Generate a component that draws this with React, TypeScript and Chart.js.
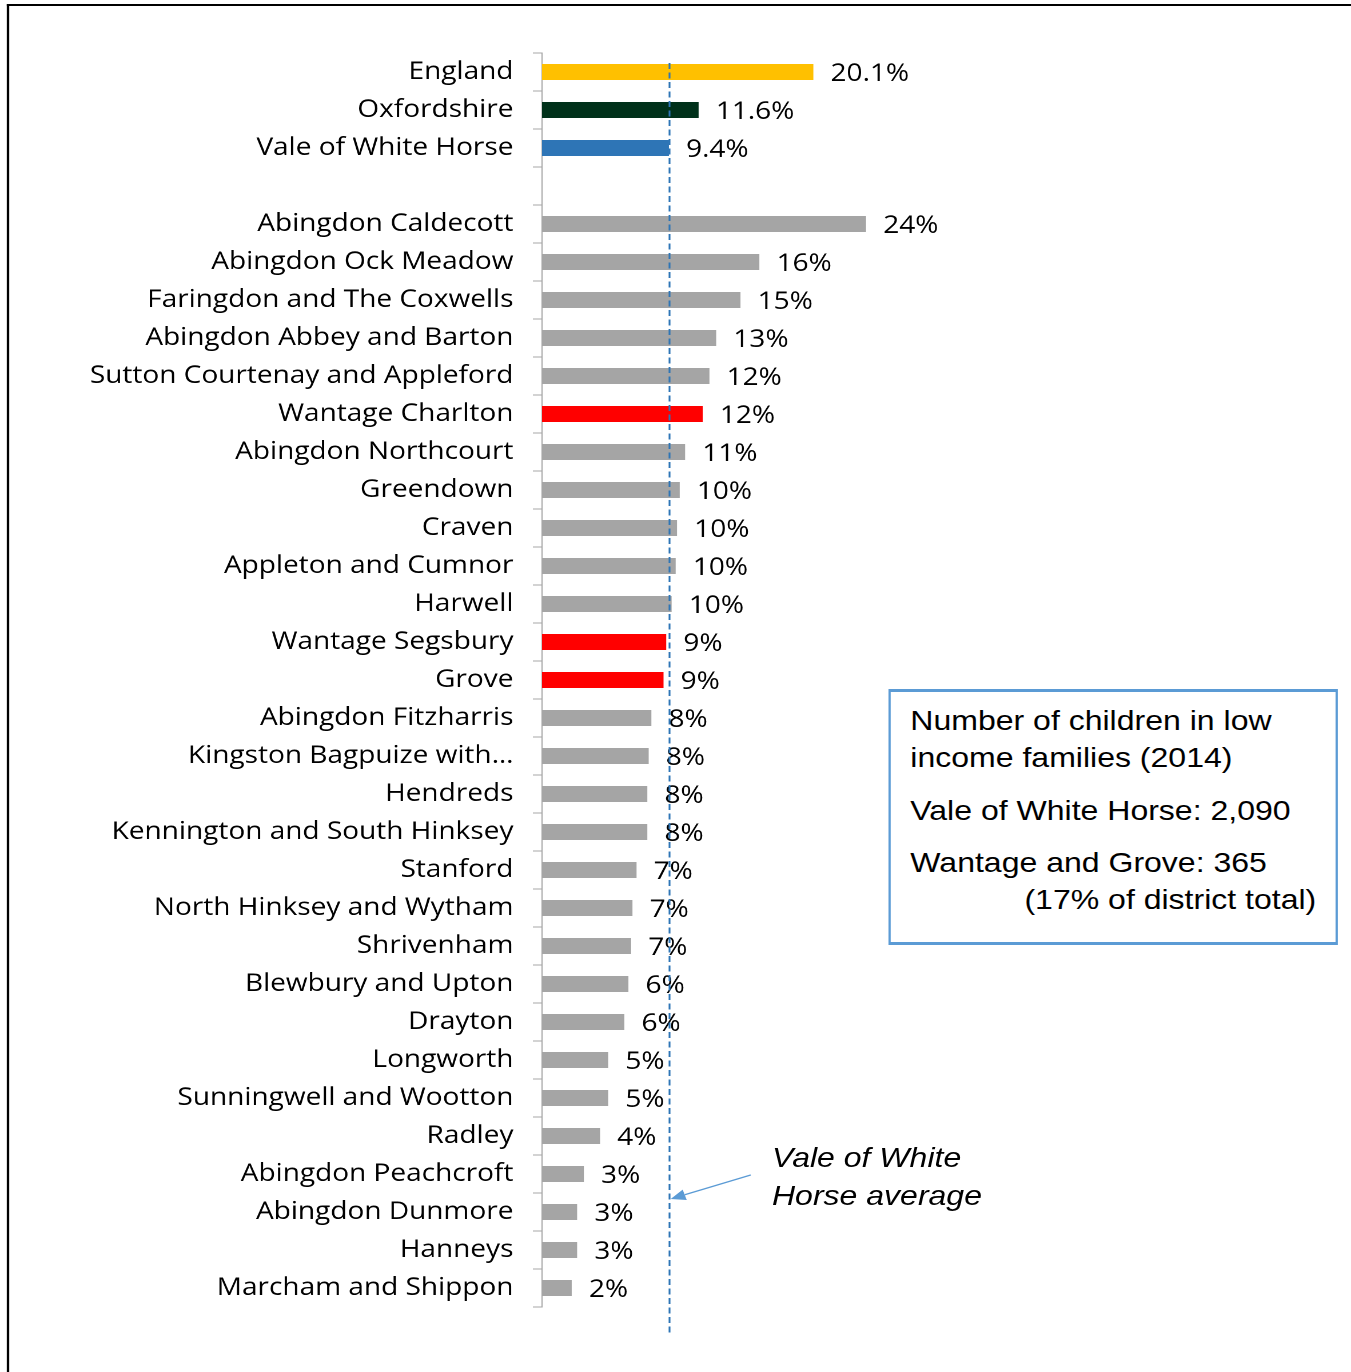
import React, { useEffect, useRef } from "react";
import { Chart, registerables } from "chart.js";

Chart.register(...registerables);

// ---------- data ----------
const categories = [
  "England",
  "Oxfordshire",
  "Vale of White Horse",
  "",
  "Abingdon Caldecott",
  "Abingdon Ock Meadow",
  "Faringdon and The Coxwells",
  "Abingdon Abbey and Barton",
  "Sutton Courtenay and Appleford",
  "Wantage Charlton",
  "Abingdon Northcourt",
  "Greendown",
  "Craven",
  "Appleton and Cumnor",
  "Harwell",
  "Wantage Segsbury",
  "Grove",
  "Abingdon Fitzharris",
  "Kingston Bagpuize with…",
  "Hendreds",
  "Kennington and South Hinksey",
  "Stanford",
  "North Hinksey and Wytham",
  "Shrivenham",
  "Blewbury and Upton",
  "Drayton",
  "Longworth",
  "Sunningwell and Wootton",
  "Radley",
  "Abingdon Peachcroft",
  "Abingdon Dunmore",
  "Hanneys",
  "Marcham and Shippon",
];

const values: (number | null)[] = [
  20.1, 11.6, 9.4, null,
  24.0, 16.1, 14.7, 12.9, 12.4, 11.9, 10.6, 10.2, 10.0, 9.9, 9.6, 9.2, 9.0,
  8.1, 7.9, 7.8, 7.8, 7.0, 6.7, 6.6, 6.4, 6.1, 4.9, 4.9, 4.3, 3.1, 2.6, 2.6, 2.2,
];

const valueLabels = [
  "20.1%", "11.6%", "9.4%", "",
  "24%", "16%", "15%", "13%", "12%", "12%", "11%", "10%", "10%", "10%", "10%", "9%", "9%",
  "8%", "8%", "8%", "8%", "7%", "7%", "7%", "6%", "6%", "5%", "5%", "4%", "3%", "3%", "3%", "2%",
];

const comparatorNames = ["England", "Oxfordshire", "Vale of White Horse"];
const comparatorColours = ["#FFC000", "#00311A", "#2E75B6"];
const highlightedWards = ["Wantage Charlton", "Wantage Segsbury", "Grove"];
const averageName = "Vale of White Horse";

const boxLines = [
  ["Number of children in low", "income families (2014)"],
  ["Vale of White Horse: 2,090"],
  ["Wantage and Grove: 365"],
];
const boxLastLine = "(17% of district total)";
const averageNote = ["Vale of White", "Horse average"];

// ---------- layout ----------
const STRETCH = 1.1435;
const W = 1181;
const H = 1372;
const AXIS_X = 474;
const X_MAX = 40;
const PX_PER_UNIT = 13.5 / STRETCH;
const RIGHT_PAD = W - AXIS_X - X_MAX * PX_PER_UNIT;
const LABEL_SIZE = 24.5;

const barColours = categories.map((c) => {
  const k = comparatorNames.indexOf(c);
  if (k >= 0) return comparatorColours[k];
  if (highlightedWards.includes(c)) return "#FF0000";
  return "#A5A5A5";
});

const overlayPlugin = {
  id: "overlay",
  afterDatasetsDraw(chart: any) {
    const ctx = chart.ctx as CanvasRenderingContext2D;
    const xs = chart.scales.x;
    const meta = chart.getDatasetMeta(0);
    ctx.save();
    ctx.font = `${LABEL_SIZE}px 'Open Sans'`;
    ctx.fillStyle = "#000";
    ctx.textAlign = "left";
    ctx.textBaseline = "middle";
    meta.data.forEach((bar: any, i: number) => {
      if (values[i] == null) return;
      ctx.fillText(valueLabels[i], bar.x + 15, bar.y + 2);
    });

    // average dashed line
    const avg = values[categories.indexOf(averageName)] as number;
    const ax = Math.round(xs.getPixelForValue(avg)) + 0.5;
    ctx.strokeStyle = "#2E75B6";
    ctx.lineWidth = 1.6;
    ctx.setLineDash([6, 3.5]);
    ctx.beginPath();
    ctx.moveTo(ax, chart.chartArea.top + 10);
    ctx.lineTo(ax, chart.chartArea.bottom + 26);
    ctx.stroke();
    ctx.setLineDash([]);

    // arrow
    const sx = ax + 71, sy = 1174, tx = ax + 1, ty = 1198;
    const dx = tx - sx, dy = ty - sy;
    const len = Math.hypot(dx, dy);
    const ux = dx / len, uy = dy / len;
    const hl = 13, hw = 5.5;
    const bx = tx - ux * hl, by = ty - uy * hl;
    ctx.strokeStyle = "#5B9BD5";
    ctx.fillStyle = "#5B9BD5";
    ctx.lineWidth = 1.3;
    ctx.beginPath();
    ctx.moveTo(sx, sy);
    ctx.lineTo(bx, by);
    ctx.stroke();
    ctx.beginPath();
    ctx.moveTo(tx, ty);
    ctx.lineTo(bx - uy * hw, by + ux * hw);
    ctx.lineTo(bx + uy * hw, by - ux * hw);
    ctx.closePath();
    ctx.fill();
    ctx.restore();
  },
};

export default function App() {
  const ref = useRef<HTMLCanvasElement | null>(null);

  useEffect(() => {
    if (!ref.current) return;
    const chart = new Chart(ref.current, {
      type: "bar",
      data: {
        labels: categories,
        datasets: [
          {
            data: values as any,
            backgroundColor: barColours,
            barPercentage: 0.42,
            categoryPercentage: 1,
          },
        ],
      },
      options: {
        indexAxis: "y",
        animation: false,
        responsive: false,
        devicePixelRatio: 2,
        layout: { padding: { top: 52, bottom: 66, left: 0, right: RIGHT_PAD } },
        plugins: { legend: { display: false }, tooltip: { enabled: false } },
        scales: {
          x: { type: "linear", min: 0, max: X_MAX, display: false },
          y: {
            type: "category",
            position: "left",
            grid: {
              display: true,
              drawOnChartArea: false,
              drawTicks: true,
              tickLength: 8,
              color: "#A6A6A6",
              tickColor: "#A6A6A6",
              offset: true,
            },
            border: { display: true, color: "#A6A6A6", width: 1 },
            ticks: {
              autoSkip: false,
              padding: 17,
              color: "#000",
              font: { family: "'Open Sans'", size: LABEL_SIZE },
            },
            afterFit: (s: any) => {
              s.width = AXIS_X;
            },
          },
        },
      } as any,
      plugins: [overlayPlugin],
    });
    return () => chart.destroy();
  }, []);

  const boxFont = "'Liberation Sans', Arial, sans-serif";

  return (
    <div style={{ position: "absolute", left: 0, top: 0, width: 1351, height: H, overflow: "hidden", background: "#fff" }}>
      <div style={{ position: "relative", width: W, height: H, transform: `scaleX(${STRETCH})`, transformOrigin: "0 0" }}>
        <canvas ref={ref} width={W} height={H} style={{ position: "absolute", left: 0, top: 1, width: W, height: H }} />
        {/* outer frame */}
        <div style={{ position: "absolute", left: 5.6, top: 3.8, width: W + 20, height: H + 20, borderTop: "2.6px solid #000", borderLeft: "2.2px solid #000", boxSizing: "border-box", pointerEvents: "none" }} />
        {/* info box */}
        <div
          style={{
            position: "absolute",
            left: 777.4,
            top: 689,
            width: 392.7,
            height: 256,
            boxSizing: "border-box",
            borderStyle: "solid",
            borderColor: "#5B9BD5",
            borderWidth: "3px 2.6px",
            padding: "9.5px 17px 0 16.7px",
            fontFamily: boxFont,
            fontSize: 28,
            lineHeight: "37px",
            color: "#000",
            background: "#fff",
          }}
        >
          {boxLines.map((p, i) => (
            <div key={i} style={{ marginBottom: i === 0 ? 16 : 15 }}>
              {p.map((l, j) => (
                <div key={j} style={{ whiteSpace: "nowrap" }}>{l}</div>
              ))}
            </div>
          ))}
          <div style={{ whiteSpace: "nowrap", textAlign: "right", marginTop: -15 }}>{boxLastLine}</div>
        </div>
        {/* average annotation */}
        <div style={{ position: "absolute", left: 675.1, top: 1139, fontFamily: boxFont, fontStyle: "italic", fontSize: 28, lineHeight: "38px", color: "#000" }}>
          {averageNote.map((l, i) => (
            <div key={i} style={{ whiteSpace: "nowrap" }}>{l}</div>
          ))}
        </div>
      </div>
    </div>
  );
}
